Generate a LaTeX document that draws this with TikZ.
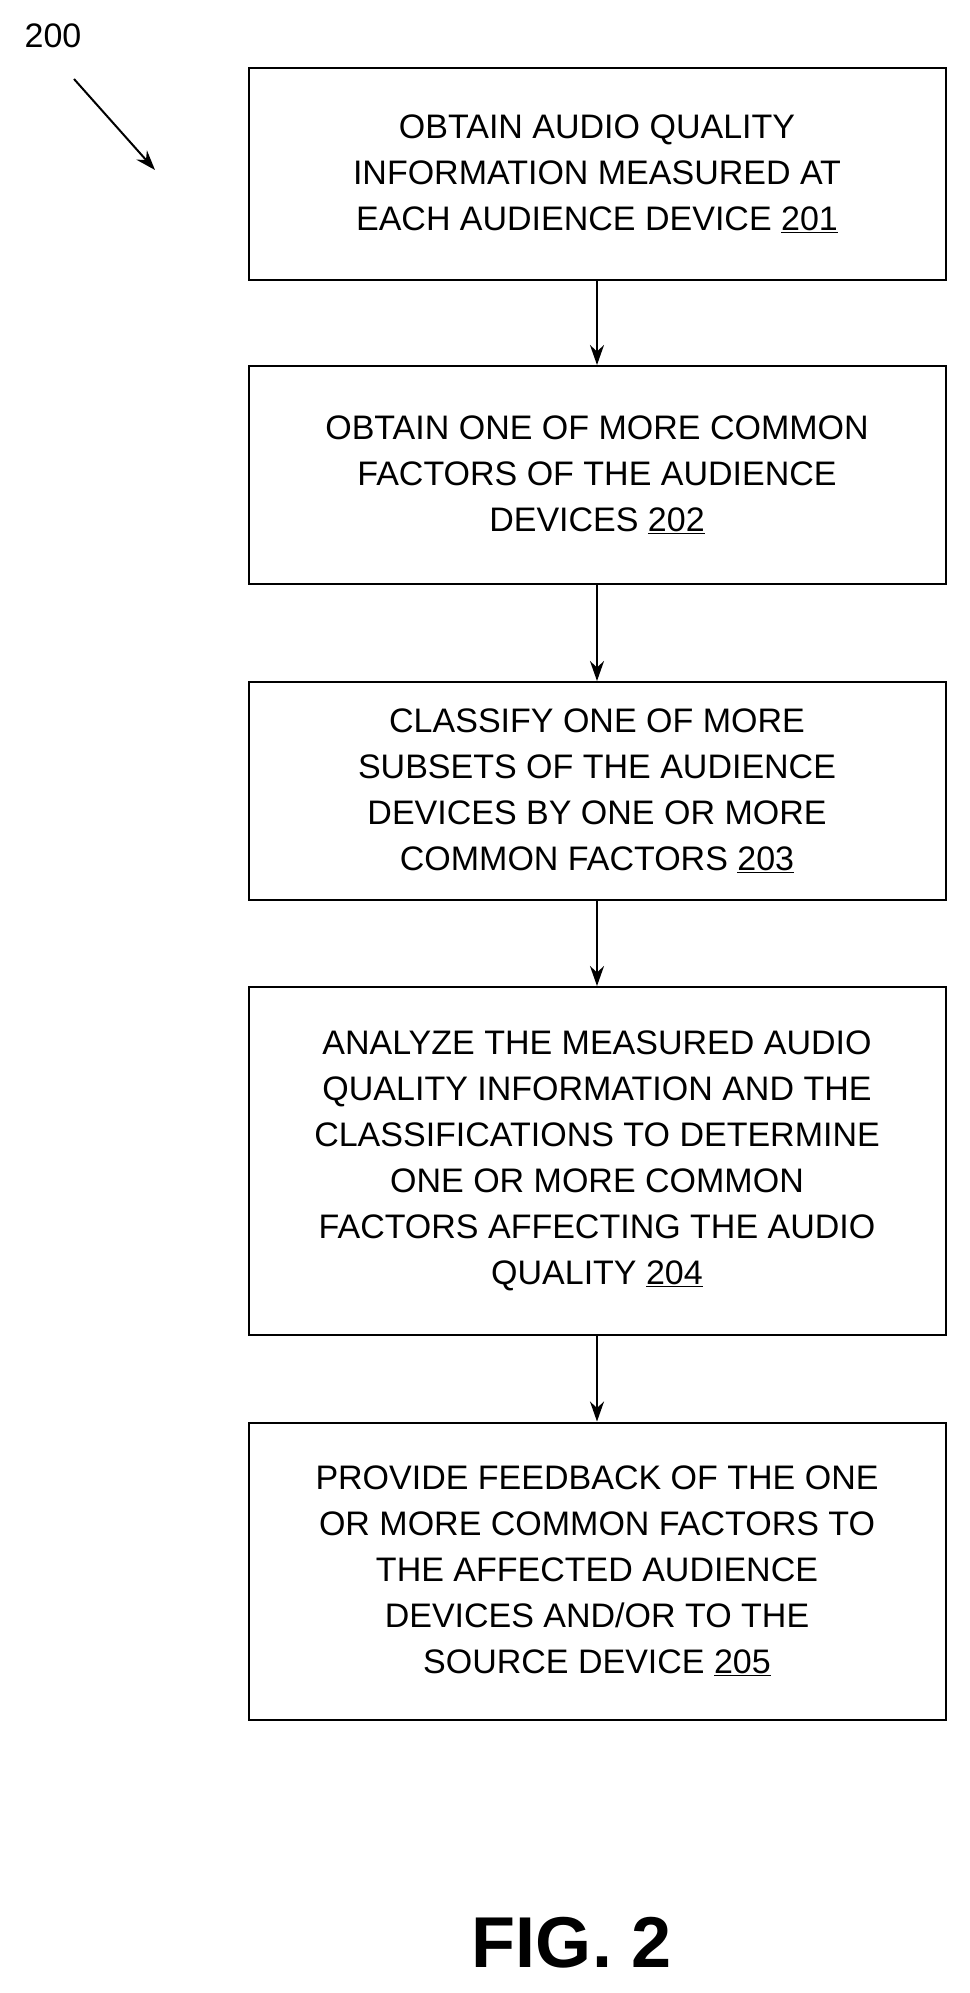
\documentclass[tikz,border=0pt]{standalone}
\usetikzlibrary{arrows.meta}
\usepackage{fontspec}
\setmainfont{Liberation Sans}
\begin{document}
\begin{tikzpicture}[x=1pt,y=-1pt,
  box/.style={draw,line width=2pt,minimum width=697pt,align=center,font=\fontsize{34}{46}\selectfont,inner sep=0pt},
  arr/.style={-{Stealth[length=20pt,width=14pt]},line width=2pt}]
\useasboundingbox (0,0) rectangle (969,1993);
\node[font=\fontsize{34}{40}\selectfont] (lbl) at (53,36) {200};
\coordinate (a1) at (74,79);
\coordinate (a2) at (155,170);
\draw[arr] (a1) -- (a2);
\node[box,minimum height=211pt] (b1) at (597,174) {OBTAIN AUDIO QUALITY\\INFORMATION MEASURED AT\\EACH AUDIENCE DEVICE \underline{201}};
\node[box,minimum height=218pt] (b2) at (597,475) {OBTAIN ONE OF MORE COMMON\\FACTORS OF THE AUDIENCE\\DEVICES \underline{202}};
\node[box,minimum height=218pt] (b3) at (597,791) {CLASSIFY ONE OF MORE\\SUBSETS OF THE AUDIENCE\\DEVICES BY ONE OR MORE\\COMMON FACTORS \underline{203}};
\node[box,minimum height=348pt] (b4) at (597,1161) {ANALYZE THE MEASURED AUDIO\\QUALITY INFORMATION AND THE\\CLASSIFICATIONS TO DETERMINE\\ONE OR MORE COMMON\\FACTORS AFFECTING THE AUDIO\\QUALITY \underline{204}};
\node[box,minimum height=297pt] (b5) at (597,1571) {PROVIDE FEEDBACK OF THE ONE\\OR MORE COMMON FACTORS TO\\THE AFFECTED AUDIENCE\\DEVICES AND/OR TO THE\\SOURCE DEVICE \underline{205}};
\draw[arr] (b1) -- (b2);
\draw[arr] (b2) -- (b3);
\draw[arr] (b3) -- (b4);
\draw[arr] (b4) -- (b5);
\node[font=\bfseries\fontsize{72}{80}\selectfont] (fig) at (572,1943) {FIG. 2};
\end{tikzpicture}
\end{document}
